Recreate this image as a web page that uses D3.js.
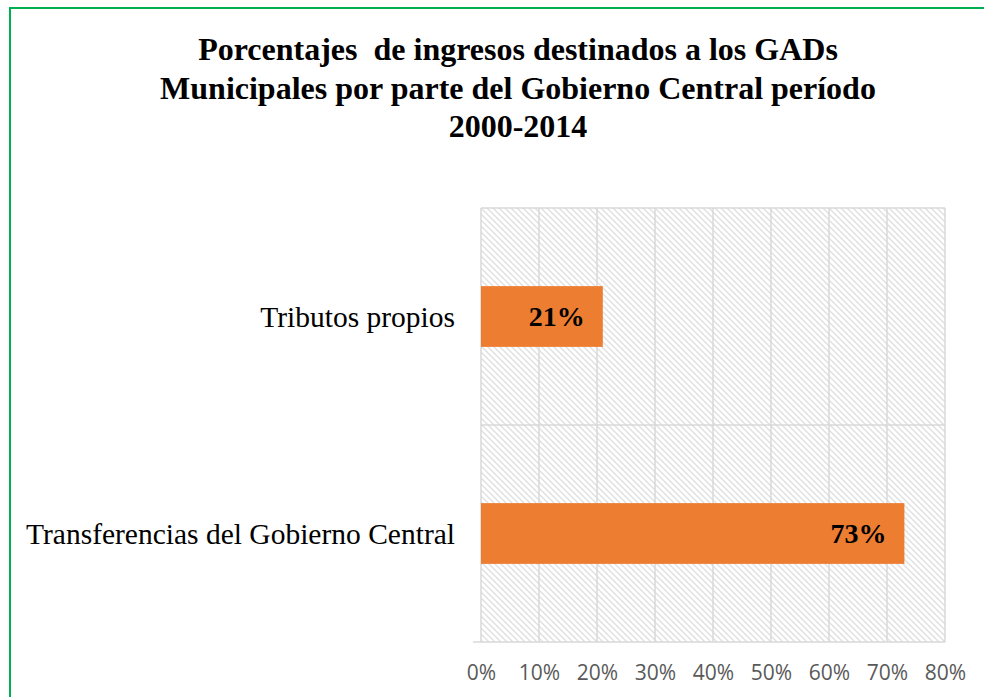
<!DOCTYPE html>
<html>
<head>
<meta charset="utf-8">
<script src="https://cdn.jsdelivr.net/npm/d3@7"></script>
<style>
  body { margin: 0; background: #fff; }
  svg { display: block; }
</style>
</head>
<body>
<div id="chart"></div>
<script>
// chart data
var titleLines = ["Porcentajes  de ingresos destinados a los GADs", "Municipales por parte del Gobierno Central período", "2000-2014"];
var categories = ["Tributos propios", "Transferencias del Gobierno Central"];
var values = [0.21, 0.73];
var tickValues = [0, 0.1, 0.2, 0.3, 0.4, 0.5, 0.6, 0.7, 0.8];

var W = 984, H = 697;
var svg = d3.select("#chart").append("svg")
    .attr("width", W)
    .attr("height", H);

// green frame (runs off the right / bottom of the picture)
svg.append("rect")
    .attr("x", 10).attr("y", 8)
    .attr("width", 990).attr("height", 700)
    .attr("fill", "#fff")
    .attr("stroke", "#00b050")
    .attr("stroke-width", 2);

// hatch fill for the plot area
var defs = svg.append("defs");
var pat = defs.append("pattern")
    .attr("id", "hatch")
    .attr("patternUnits", "userSpaceOnUse")
    .attr("width", 6).attr("height", 6);
pat.append("path")
    .attr("d", "M-1,-1 L7,7 M-4,2 L1,7 M5,-1 L7,1")
    .attr("stroke", "#dedede")
    .attr("stroke-width", 1.3);

// title
svg.append("g").selectAll("text")
    .data(titleLines)
    .enter().append("text")
    .attr("x", 518)
    .attr("y", function(d, i) { return 60 + i * 38.5; })
    .attr("text-anchor", "middle")
    .style("font-family", "'Liberation Serif', 'Times New Roman', serif")
    .style("font-weight", "bold")
    .style("font-size", "32px")
    .style("white-space", "pre")
    .text(function(d) { return d; });

var margin = {left: 481, top: 208},
    width = 945 - 481,
    height = 642 - 208;

var x = d3.scaleLinear().domain([0, 0.8]).range([0, width]);
var y = d3.scaleBand().domain(categories).range([0, height])
    .paddingInner(0.72).paddingOuter(0.36);

var g = svg.append("g")
    .attr("transform", "translate(" + margin.left + "," + margin.top + ")");

g.append("rect")
    .attr("width", width).attr("height", height)
    .attr("fill", "url(#hatch)");

// vertical gridlines
g.selectAll(".vgrid")
    .data(tickValues)
    .enter().append("line")
    .attr("class", "vgrid")
    .attr("x1", function(d) { return x(d); })
    .attr("x2", function(d) { return x(d); })
    .attr("y1", 0).attr("y2", height)
    .attr("stroke", "#d9d9d9")
    .attr("stroke-width", 1.5);

// category separators
var step = y.step();
var seps = d3.range(categories.length + 1).map(function(i) { return i * step; });
g.selectAll(".hsep")
    .data(seps)
    .enter().append("line")
    .attr("class", "hsep")
    .attr("x1", function(d, i) { return i === seps.length - 1 ? -8 : 0; })
    .attr("x2", width)
    .attr("y1", function(d) { return d; })
    .attr("y2", function(d) { return d; })
    .attr("stroke", "#d9d9d9")
    .attr("stroke-width", 1.5);

// bars
g.selectAll(".bar")
    .data(categories)
    .enter().append("rect")
    .attr("class", "bar")
    .attr("x", 0)
    .attr("y", function(d) { return y(d); })
    .attr("width", function(d, i) { return x(values[i]); })
    .attr("height", y.bandwidth())
    .attr("fill", "#ed7d31");

// data labels
g.selectAll(".lbl")
    .data(categories)
    .enter().append("text")
    .attr("class", "lbl")
    .attr("x", function(d, i) { return x(values[i]) - 18; })
    .attr("y", function(d) { return y(d) + y.bandwidth() / 2; })
    .attr("dy", "0.35em")
    .attr("text-anchor", "end")
    .style("font-family", "'Liberation Serif', 'Times New Roman', serif")
    .style("font-weight", "bold")
    .style("font-size", "28px")
    .text(function(d, i) { return Math.round(values[i] * 100) + "%"; });

// category axis labels
g.selectAll(".cat")
    .data(categories)
    .enter().append("text")
    .attr("class", "cat")
    .attr("x", -26)
    .attr("y", function(d) { return y(d) + y.bandwidth() / 2; })
    .attr("dy", "0.35em")
    .attr("text-anchor", "end")
    .style("font-family", "'Liberation Serif', 'Times New Roman', serif")
    .style("font-size", "29.5px")
    .text(function(d) { return d; });

// x axis
var xAxis = d3.axisBottom(x)
    .tickValues(tickValues)
    .tickFormat(d3.format(".0%"))
    .tickSize(0)
    .tickPadding(23);

var ax = g.append("g")
    .attr("transform", "translate(0," + height + ")")
    .call(xAxis);
ax.select(".domain").remove();
ax.selectAll("text")
    .style("font-family", "'Open Sans', 'Noto Sans', sans-serif")
    .style("font-size", "21px")
    .attr("fill", "#595959");
</script>
</body>
</html>
